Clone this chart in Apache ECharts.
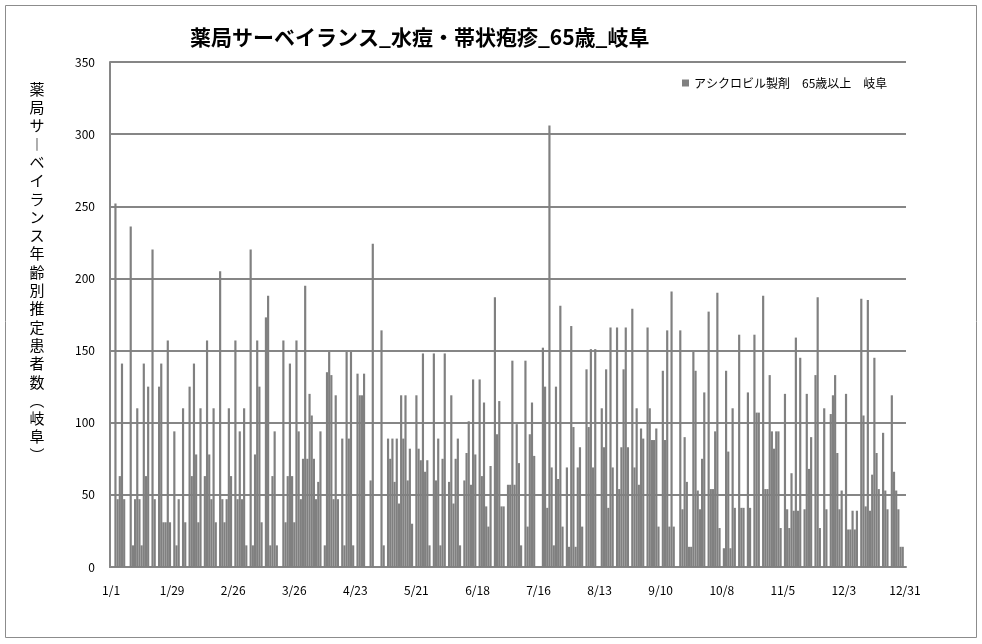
<!DOCTYPE html>
<html><head><meta charset="utf-8">
<script src="https://cdn.jsdelivr.net/npm/echarts@6/dist/echarts.min.js"></script>
<style>html,body{margin:0;padding:0;background:#fff}#c{width:982px;height:644px}</style>
</head><body><div id="c"></div>
<script>
const titleText = '薬局サーベイランス_水痘・帯状疱疹_65歳_岐阜';
const yAxisTitle = '薬局サ︱ベイランス年齢別推定患者数︵岐阜︶';
const seriesName = 'アシクロビル製剤　65歳以上　岐阜';
const yTicks = [0, 50, 100, 150, 200, 250, 300, 350];
// one value per day, 1/1 .. 12/31
const values = [
0,0,252,47,63,141,47,0,0,236,15,47,110,47,15,141,63,125,0,220,47,0,125,141,31,31,157,31,0,94,
15,47,0,110,31,0,125,63,141,78,31,110,0,63,157,78,47,110,31,0,205,47,31,47,110,63,0,157,47,94,
47,110,15,0,220,15,78,157,125,31,0,173,188,15,63,94,15,0,0,157,31,63,141,63,31,157,94,47,75,195,
75,120,105,75,47,59,94,0,15,135,149,133,47,119,47,0,89,15,149,89,149,15,0,134,119,119,134,0,0,60,
224,0,0,0,164,15,0,89,75,89,59,89,44,119,89,119,60,82,30,0,119,82,74,148,66,74,15,0,148,60,
89,15,75,148,0,59,119,44,75,89,15,0,60,79,101,57,130,78,0,130,63,114,42,28,70,0,187,92,115,42,
42,0,57,57,143,57,99,72,15,0,143,28,92,114,77,0,0,0,152,125,41,306,69,15,125,61,181,28,0,69,
14,167,97,14,69,83,28,0,137,97,151,69,151,0,0,110,83,137,41,166,69,0,166,54,83,137,166,83,0,179,
69,110,57,96,89,0,166,110,88,88,96,28,0,136,88,164,28,191,28,0,0,164,40,90,59,14,14,149,136,53,
40,75,121,0,177,54,54,94,190,27,0,13,136,80,13,110,41,0,161,41,41,0,121,41,0,161,107,107,0,188,
54,54,133,94,82,94,94,27,0,120,40,27,65,39,159,39,145,0,40,120,68,90,0,133,187,27,0,110,40,0,
106,119,133,79,40,53,0,120,26,26,39,26,39,0,186,105,42,185,39,64,145,79,54,0,93,53,40,0,119,66,53,40,14,14,0
];
const categories = [];
(function(){ const d = new Date(2015,0,1); for (let i=0;i<values.length;i++){ categories.push((d.getMonth()+1)+'/'+d.getDate()); d.setDate(d.getDate()+1);} })();

const chart = echarts.init(document.getElementById('c'), null, {renderer:'canvas'});
const font = '"Noto Sans CJK JP", "Noto Sans", sans-serif';
chart.setOption({
  animation: false,
  backgroundColor: '#fff',
  grid: {left: 110, right: 76, top: 62, bottom: 77, containLabel: false},
  legend: {
    data: [seriesName], left: 677, top: 72, icon: 'rect', itemWidth: 7, itemHeight: 7, itemGap: 4,
    textStyle: {fontFamily: font, fontSize: 12, color: '#000'}
  },
  graphic: [
    {type: 'rect', shape: {x: 5.5, y: 5.5, width: 971, height: 632}, style: {fill: 'none', stroke: '#8c8c8c', lineWidth: 1}, silent: true},
    {type: 'text', left: 190, top: 27, style: {text: titleText, font: 'bold 21px ' + font, fill: '#000'}},
    {type: 'text', x: 37, y: 272, style: {text: yAxisTitle.split('').join('\n'), font: '15px ' + font, lineHeight: 18.3, fill: '#000', align: 'center', verticalAlign: 'middle'}}
  ],
  xAxis: {
    type: 'category', data: categories, boundaryGap: true,
    axisLine: {lineStyle: {color: '#868686', width: 2}},
    axisTick: {show: false},
    axisLabel: {interval: 27, fontFamily: font, fontSize: 12, color: '#000', margin: 17, showMinLabel: true, showMaxLabel: true}
  },
  yAxis: {
    type: 'value', min: yTicks[0], max: yTicks[yTicks.length-1], interval: 50,
    axisLine: {show: true, lineStyle: {color: '#868686', width: 2}},
    axisTick: {show: false},
    axisLabel: {fontFamily: font, fontSize: 12, color: '#000', margin: 15},
    splitLine: {lineStyle: {color: '#868686', width: 2}}
  },
  series: [{
    name: seriesName, type: 'bar', data: values, barCategoryGap: '0%',
    itemStyle: {color: '#808080'}
  }]
});
</script></body></html>
